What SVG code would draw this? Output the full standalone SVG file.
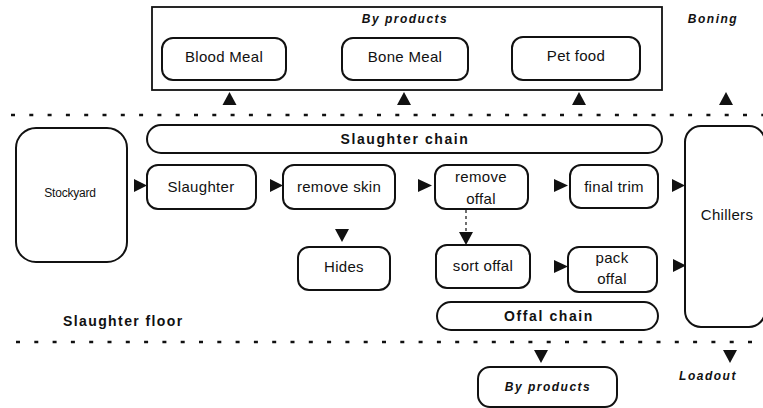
<svg xmlns="http://www.w3.org/2000/svg" width="763" height="408" viewBox="0 0 763 408">
<style>
  .box { fill: #fff; stroke: #111; stroke-width: 2; }
  .lbl { font-family: "Liberation Sans", Arial, sans-serif; font-size: 15px; fill: #111; text-anchor: middle; letter-spacing: 0.3px; }
  .bold { font-family: "Liberation Sans", Arial, sans-serif; font-size: 14px; font-weight: bold; fill: #111; letter-spacing: 1.6px; }
  .ital { font-family: "Liberation Sans", Arial, sans-serif; font-size: 12px; font-weight: bold; font-style: italic; fill: #111; letter-spacing: 1.5px; }
  .mid { text-anchor: middle; }
  .dots { stroke: #111; stroke-width: 2.5; stroke-dasharray: 4 14.3; fill: none; }
  .tri { fill: #111; }
  .conn { stroke: #111; stroke-width: 1.2; stroke-dasharray: 3 3; fill: none; }
</style>

<!-- area separators -->
<line class="dots" x1="11" y1="115" x2="763" y2="115"/>
<line class="dots" x1="16" y1="342" x2="763" y2="342"/>

<!-- By products frame (top) -->
<g id="byproducts-frame">
  <rect x="152" y="7" width="510" height="83" fill="none" stroke="#111" stroke-width="1.8"/>
  <text class="ital mid" x="405" y="23">By products</text>
</g>
<g id="blood-meal">
  <rect class="box" x="162" y="38" width="124" height="42" rx="11"/>
  <text class="lbl" x="224" y="62">Blood Meal</text>
</g>
<g id="bone-meal">
  <rect class="box" x="342" y="38" width="126" height="42" rx="11"/>
  <text class="lbl" x="405" y="62">Bone Meal</text>
</g>
<g id="pet-food">
  <rect class="box" x="512" y="37" width="128" height="43" rx="11"/>
  <text class="lbl" x="576" y="61">Pet food</text>
</g>
<g id="boning">
  <text class="ital mid" x="713" y="23">Boning</text>
</g>

<!-- Slaughter floor -->
<g id="slaughter-chain">
  <rect class="box" x="147" y="125" width="515" height="28" rx="14"/>
  <text class="bold mid" x="405" y="144">Slaughter chain</text>
</g>
<g id="stockyard">
  <rect class="box" x="16" y="128" width="111" height="134" rx="20"/>
  <text class="lbl" x="70" y="197" style="font-size:12px;letter-spacing:-0.2px">Stockyard</text>
</g>
<g id="slaughter">
  <rect class="box" x="147" y="165" width="109" height="44" rx="11"/>
  <text class="lbl" x="201" y="192">Slaughter</text>
</g>
<g id="remove-skin">
  <rect class="box" x="283" y="165" width="112" height="44" rx="11"/>
  <text class="lbl" x="339" y="192">remove skin</text>
</g>
<g id="remove-offal">
  <rect class="box" x="435" y="165" width="93" height="44" rx="11"/>
  <text class="lbl" x="481" y="182">remove</text>
  <text class="lbl" x="481" y="204">offal</text>
</g>
<g id="final-trim">
  <rect class="box" x="570" y="165" width="88" height="43" rx="11"/>
  <text class="lbl" x="614" y="192">final trim</text>
</g>
<g id="chillers">
  <rect class="box" x="685" y="126" width="80" height="201" rx="16"/>
  <text class="lbl" x="727" y="220">Chillers</text>
</g>
<g id="hides">
  <rect class="box" x="298" y="247" width="92" height="43" rx="11"/>
  <text class="lbl" x="344" y="272">Hides</text>
</g>
<g id="sort-offal">
  <rect class="box" x="436" y="245" width="94" height="43" rx="11"/>
  <text class="lbl" x="483" y="271">sort offal</text>
</g>
<g id="pack-offal">
  <rect class="box" x="568" y="247" width="89" height="45" rx="11"/>
  <text class="lbl" x="612" y="263">pack</text>
  <text class="lbl" x="612" y="284">offal</text>
</g>
<g id="offal-chain">
  <rect class="box" x="437" y="302" width="221" height="28" rx="14"/>
  <text class="bold mid" x="549" y="321">Offal chain</text>
</g>
<g id="slaughter-floor">
  <text class="bold" x="63" y="326" style="letter-spacing:1.4px">Slaughter floor</text>
</g>

<!-- Loadout area -->
<g id="byproducts-bottom">
  <rect class="box" x="478" y="367" width="139" height="40" rx="12"/>
  <text class="ital mid" x="548" y="391">By products</text>
</g>
<g id="loadout">
  <text class="ital mid" x="708" y="380">Loadout</text>
</g>

<!-- connectors -->
<g id="connectors">
  <!-- up arrows to by-products / boning -->
  <polygon class="tri" points="222.5,105 236.5,105 229.5,92"/>
  <polygon class="tri" points="397,105 411,105 404,92"/>
  <polygon class="tri" points="572,105 586,105 579,92"/>
  <polygon class="tri" points="719,105 733,105 726,92"/>
  <!-- right arrows along slaughter chain -->
  <polygon class="tri" points="134,179 134,192 147,185.5"/>
  <polygon class="tri" points="270,179 270,192 283,185.5"/>
  <polygon class="tri" points="418,179 418,192 432,185.5"/>
  <polygon class="tri" points="554,179 554,192 568,185.5"/>
  <polygon class="tri" points="672,179 672,192 685,185.5"/>
  <!-- offal chain arrows -->
  <polygon class="tri" points="554,260 554,273 568,266.5"/>
  <polygon class="tri" points="673,259 673,272 686,265.5"/>
  <!-- remove skin -> hides -->
  <polygon class="tri" points="335,229 349,229 342,242"/>
  <!-- remove offal -> sort offal (dashed) -->
  <line class="conn" x1="466" y1="210" x2="466" y2="232"/>
  <polygon class="tri" points="459,232 473,232 466,245"/>
  <!-- down arrows to bottom -->
  <polygon class="tri" points="534,350 548,350 541,363"/>
  <polygon class="tri" points="723,350 737,350 730,363"/>
</g>
</svg>
